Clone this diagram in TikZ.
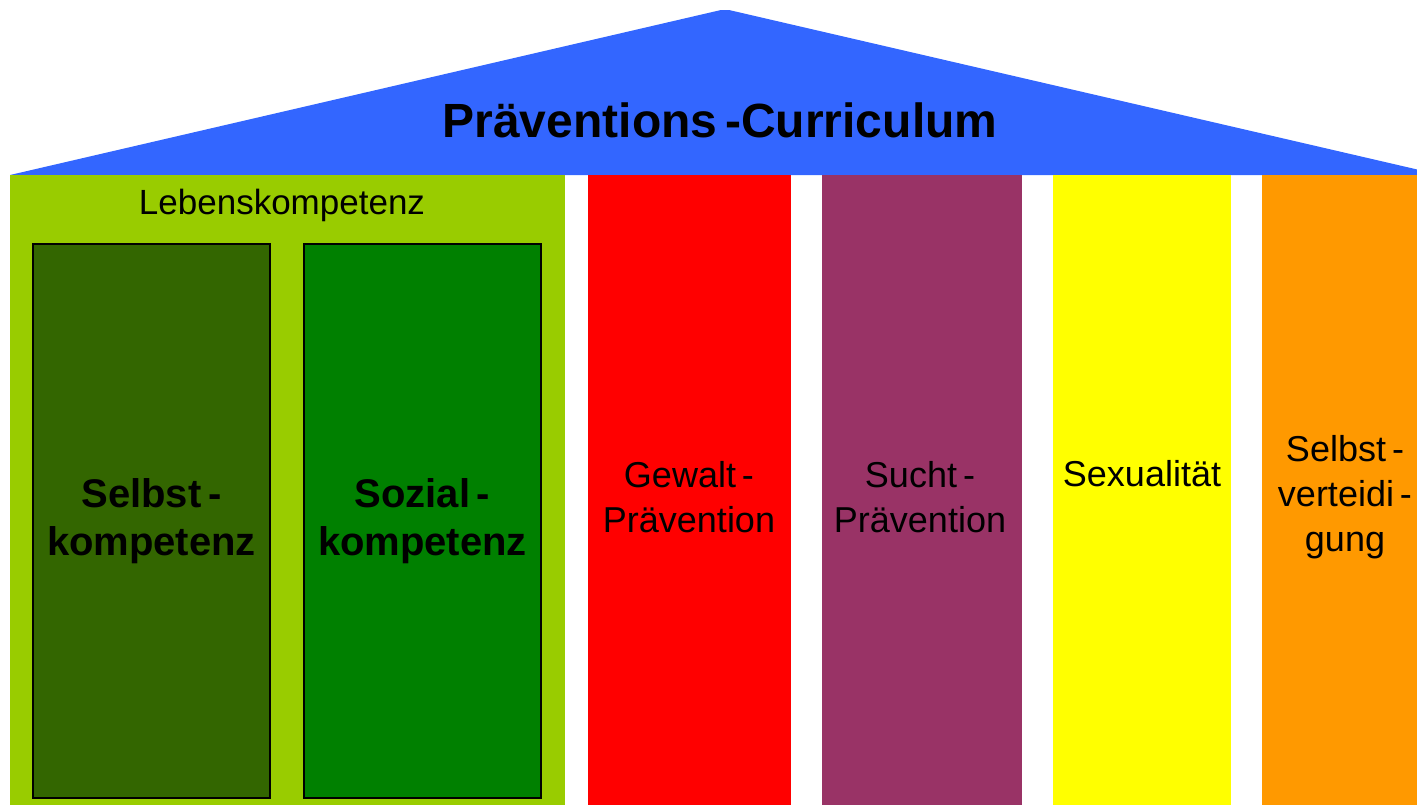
\documentclass[tikz,border=0pt]{standalone}
\usepackage{fontspec}
\setmainfont{Liberation Sans}
\definecolor{roofblue}{HTML}{3366FF}
\definecolor{lebgreen}{HTML}{99CC00}
\definecolor{selbstgreen}{HTML}{336600}
\definecolor{sozialgreen}{HTML}{008000}
\definecolor{gewaltred}{HTML}{FF0000}
\definecolor{suchtpurple}{HTML}{993366}
\definecolor{sexyellow}{HTML}{FFFF00}
\definecolor{selbstorange}{HTML}{FF9900}
\tikzset{
  pillar/.style={anchor=north west, inner sep=0pt, outer sep=0pt, draw=none},
  innerbox/.style={anchor=north west, inner sep=0pt, outer sep=0pt, draw=black, line width=1.2pt},
  pillartext/.style={align=center, inner sep=0pt, font=\fontsize{36}{45}\selectfont},
  boldtext/.style={align=center, inner sep=0pt, font=\fontsize{40}{48}\selectfont\bfseries},
}
\begin{document}
\begin{tikzpicture}[x=1pt,y=-1pt]
\useasboundingbox (0,0) rectangle (1417,804);
\clip (0,0) rectangle (1417,804);
% roof
\coordinate (rl) at (10,175);
\coordinate (ra1) at (721,10);
\coordinate (ra2) at (729,10);
\coordinate (rr) at (1441,175);
\fill[roofblue] (rl) -- (ra1) -- (ra2) -- (rr) -- cycle;
\node[font=\fontsize{48}{56}\selectfont\bfseries, inner sep=0pt] (title) at (720,120) {Präventions\,-Curriculum};
% Lebenskompetenz pillar
\node[pillar, fill=lebgreen, minimum width=555pt, minimum height=640pt] (leben) at (10,175) {};
\node[inner sep=0pt, font=\fontsize{35}{42}\selectfont] (lebtext) at (282,205) {Lebenskompetenz};
\node[innerbox, fill=selbstgreen, minimum width=237pt, minimum height=554pt] (selbst) at (33,244) {};
\node[innerbox, fill=sozialgreen, minimum width=237pt, minimum height=554pt] (sozial) at (304,244) {};
\node[boldtext] at (selbst.center) [yshift=-0pt] {Selbst\,-\\kompetenz};
\node[boldtext] at (sozial.center) {Sozial\,-\\kompetenz};
% other pillars
\node[pillar, fill=gewaltred, minimum width=203pt, minimum height=640pt] (gewalt) at (588,175) {};
\node[pillar, fill=suchtpurple, minimum width=200pt, minimum height=640pt] (sucht) at (822,175) {};
\node[pillar, fill=sexyellow, minimum width=178pt, minimum height=640pt] (sex) at (1053,175) {};
\node[pillar, fill=selbstorange, minimum width=170pt, minimum height=640pt] (vert) at (1262,175) {};
\node[pillartext] (gewalttext) at (689,497) {Gewalt\,-\\Prävention};
\node[pillartext] (suchttext) at (920,497) {Sucht\,-\\Prävention};
\node[pillartext] (sextext) at (1142,474) {Sexualität};
\node[pillartext] (verttext) at (1345,497) {Selbst\,-\\verteidi\,-\\gung};
\end{tikzpicture}
\end{document}
